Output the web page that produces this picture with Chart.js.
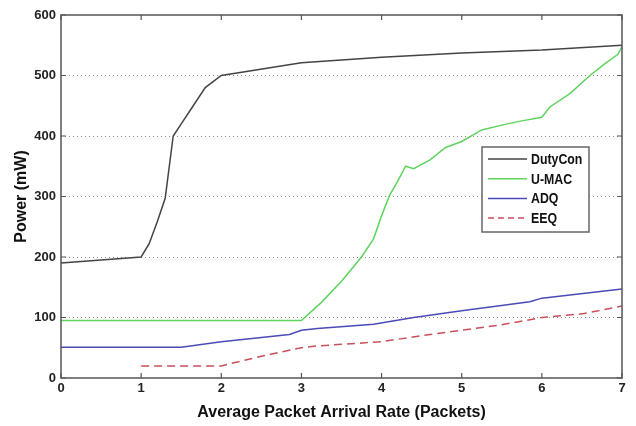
<!DOCTYPE html>
<html>
<head>
<meta charset="utf-8">
<script src="https://cdn.jsdelivr.net/npm/chart.js@4.4.1/dist/chart.umd.min.js"></script>
<style>
  html, body { margin: 0; padding: 0; background: #fff; }
  #wrap { width: 636px; height: 426px; }
</style>
</head>
<body>
<div id="wrap"><canvas id="chart"></canvas></div>
<script>
// values
var dutyConX = [0, 1, 1.1, 1.2, 1.3, 1.4, 1.5, 1.65, 1.8, 2, 3, 4, 5, 6, 7];
var dutyConY = [190, 200, 222, 258, 297, 400, 420, 450, 480, 500, 521, 530, 537, 542, 550];

var umacX = [0, 3, 3.25, 3.5, 3.75, 3.9, 4, 4.1, 4.2, 4.3, 4.4, 4.6, 4.8, 5, 5.25, 5.5, 5.75, 6, 6.1, 6.35, 6.6, 6.8, 6.95, 7];
var umacY = [95, 95, 125, 160, 200, 230, 268, 302, 325, 350, 346, 360, 381, 391, 410, 418, 425, 431, 448, 470, 500, 521, 535, 548];

var adqX = [0, 1.5, 2, 2.5, 2.85, 3, 3.2, 3.9, 4.4, 5, 5.85, 6, 7];
var adqY = [51, 51, 60, 67, 72, 79, 82, 89, 100, 111, 126, 132, 147];

var eeqX = [1, 2, 2.5, 3, 3.2, 4, 4.5, 5, 5.5, 6, 6.5, 7];
var eeqY = [20, 20, 36, 50, 53, 60, 70, 79, 88, 100, 106, 119];

var seriesNames = ['DutyCon', 'U-MAC', 'ADQ', 'EEQ'];
var xTicks = [0, 1, 2, 3, 4, 5, 6, 7];
var yTicks = [0, 100, 200, 300, 400, 500, 600];

function pairs(xs, ys) {
  return xs.map(function (x, i) { return { x: x, y: ys[i] }; });
}

var tickFont = { family: "'Liberation Sans', Arial, sans-serif", size: 13, weight: 'bold' };
var titleFont = { family: "'Liberation Sans', Arial, sans-serif", size: 16, weight: 'bold' };

// MATLAB style box with inward ticks, plus the inset legend
var framePlugin = {
  id: 'frame',
  afterDatasetsDraw: function (chart) {
    var ctx = chart.ctx;
    var a = chart.chartArea;
    var xs = chart.scales.x, ys = chart.scales.y;
    ctx.save();
    ctx.strokeStyle = '#555';
    ctx.lineWidth = 1.5;
    ctx.strokeRect(a.left, a.top, a.right - a.left, a.bottom - a.top);
    ctx.lineWidth = 1.2;
    ctx.beginPath();
    xTicks.forEach(function (v) {
      var px = xs.getPixelForValue(v);
      ctx.moveTo(px, a.bottom); ctx.lineTo(px, a.bottom - 5);
      ctx.moveTo(px, a.top); ctx.lineTo(px, a.top + 5);
    });
    yTicks.forEach(function (v) {
      var py = ys.getPixelForValue(v);
      ctx.moveTo(a.left, py); ctx.lineTo(a.left + 5, py);
      ctx.moveTo(a.right, py); ctx.lineTo(a.right - 5, py);
    });
    ctx.stroke();

    // legend box
    var bx = 482, by = 147, bw = 107, bh = 85;
    ctx.fillStyle = '#fff';
    ctx.fillRect(bx, by, bw, bh);
    ctx.strokeStyle = '#666';
    ctx.lineWidth = 1.5;
    ctx.strokeRect(bx, by, bw, bh);
    ctx.textBaseline = 'middle';
    chart.data.datasets.forEach(function (ds, i) {
      var ly = by + 12 + i * 19.7;
      ctx.strokeStyle = ds.borderColor;
      ctx.lineWidth = ds.borderWidth;
      ctx.setLineDash(ds.legendDash || []);
      ctx.beginPath();
      ctx.moveTo(bx + 6, ly); ctx.lineTo(bx + 45, ly);
      ctx.stroke();
      ctx.setLineDash([]);
      ctx.save();
      ctx.translate(bx + 49, ly + 1);
      ctx.scale(0.88, 1);
      ctx.font = "bold 14px 'Liberation Sans', Arial, sans-serif";
      ctx.fillStyle = '#111';
      ctx.fillText(ds.label, 0, 0);
      ctx.restore();
    });
    ctx.restore();
  }
};

new Chart(document.getElementById('chart'), {
  type: 'line',
  data: {
    datasets: [
      { label: seriesNames[0], data: pairs(dutyConX, dutyConY), borderColor: '#444444', borderWidth: 1.5 },
      { label: seriesNames[1], data: pairs(umacX, umacY), borderColor: '#5fd35f', borderWidth: 1.5 },
      { label: seriesNames[2], data: pairs(adqX, adqY), borderColor: '#4a4ab8', borderWidth: 1.5 },
      { label: seriesNames[3], data: pairs(eeqX, eeqY), borderColor: '#c9505a', borderWidth: 1.5, borderDash: [8, 5], legendDash: [6, 4] }
    ]
  },
  options: {
    responsive: true,
    maintainAspectRatio: false,
    animation: false,
    layout: { padding: { top: 15, right: 14, left: 0, bottom: 0 } },
    elements: { point: { radius: 0 }, line: { tension: 0, fill: false } },
    plugins: { legend: { display: false }, tooltip: { enabled: false } },
    scales: {
      x: {
        type: 'linear', min: 0, max: 7,
        afterFit: function (s) { s.height = 48; },
        ticks: { stepSize: 1, color: '#222', font: tickFont, padding: 3 },
        grid: { display: false, drawTicks: false },
        border: { display: false },
        title: { display: true, text: 'Average Packet Arrival Rate (Packets)', color: '#111', font: titleFont, padding: { top: 4 } }
      },
      y: {
        min: 0, max: 600,
        afterFit: function (s) { s.width = 61; },
        ticks: { stepSize: 100, color: '#222', font: tickFont, padding: 5 },
        grid: {
          drawTicks: false,
          color: function (c) { return (c.tick.value > 0 && c.tick.value < 600) ? '#888' : 'rgba(0,0,0,0)'; },
          lineWidth: 1
        },
        border: { display: false, dash: [1, 3] },
        title: { display: true, text: 'Power (mW)', color: '#111', font: titleFont, padding: { top: 12, bottom: 0 } }
      }
    }
  },
  plugins: [framePlugin]
});
</script>
</body>
</html>
